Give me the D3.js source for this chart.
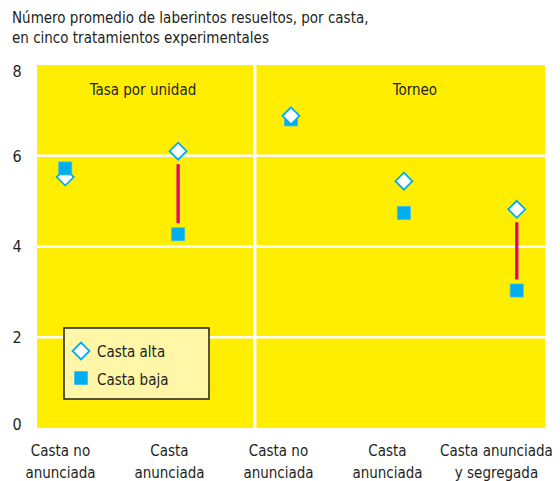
<!DOCTYPE html>
<html>
<head>
<meta charset="utf-8">
<script src="https://cdn.jsdelivr.net/npm/d3@7/dist/d3.min.js"></script>
<style>
  body { margin: 0; background: #ffffff; }
  text { font-family: "DejaVu Sans Condensed", "Liberation Sans Narrow", sans-serif; fill: #231f20; }
</style>
</head>
<body>
<div id="chart"></div>
<script>

// data

const categories = ["c1", "c2", "c3", "c4", "c5"];
const categoryLabels = [
  ["Casta no", "anunciada"],
  ["Casta", "anunciada"],
  ["Casta no", "anunciada"],
  ["Casta", "anunciada"],
  ["Casta anunciada", "y segregada"]
];
const castaAlta = [5.53, 6.1, 6.88, 5.44, 4.82];
const castaBaja = [5.72, 4.27, 6.8, 4.74, 3.03];
const gapLines = ["c2", "c5"];          // pink lines between the two castes
const panels = ["Tasa por unidad", "Torneo"];
const yTicks = [0, 2, 4, 6, 8];
const titleLines = ["Número promedio de laberintos resueltos, por casta,", "en cinco tratamientos experimentales"];
const legendItems = ["Casta alta", "Casta baja"];


const width = 560, height = 481;
const margin = { top: 65, right: 15, bottom: 53, left: 37 };

const yellow = "#ffee00", cyan = "#00aeef", pink = "#e6007e";

const svg = d3.select("#chart").append("svg")
  .attr("width", width)
  .attr("height", height);

let x = d3.scalePoint()
  .domain(categories)
  .range([margin.left, width - margin.right])
  .padding(0.25);

// labels under the axis sit on their own, slightly wider spacing
let xLabel = d3.scalePoint()
  .domain(categories)
  .range([6, 551])
  .padding(0.5);

let y = d3.scaleLinear()
  .domain([0, 8])
  .range([height - margin.bottom, margin.top]);

// yellow background
svg.append("rect")
  .attr("x", margin.left)
  .attr("y", y(8))
  .attr("width", width - margin.right - margin.left)
  .attr("height", y(0) - y(8))
  .style("fill", yellow);

// white grid
svg.selectAll("line.grid")
  .data(yTicks.filter(d => d > 0 && d < 8))
  .enter()
  .append("line")
  .attr("class", "grid")
  .attr("x1", margin.left)
  .attr("x2", width - margin.right)
  .attr("y1", d => y(d))
  .attr("y2", d => y(d))
  .style("stroke", "#ffffff")
  .style("stroke-width", 2.7);

// divider between the two panels
let divX = margin.left + (width - margin.right - margin.left) * 0.429;
svg.append("line")
  .attr("x1", divX).attr("x2", divX)
  .attr("y1", y(8)).attr("y2", y(0))
  .style("stroke", "#ffffff")
  .style("stroke-width", 3);

// y tick labels
svg.selectAll("text.yTick")
  .data(yTicks)
  .enter()
  .append("text")
  .attr("class", "yTick")
  .attr("x", 17)
  .attr("y", d => y(d))
  .attr("dy", d => d == 8 ? "0.75em" : d == 0 ? "0.15em" : "0.36em")
  .style("text-anchor", "middle")
  .style("font-size", "16px")
  .text(d => d);

// title
svg.selectAll("text.title")
  .data(titleLines)
  .enter()
  .append("text")
  .attr("class", "title")
  .attr("x", 12)
  .attr("y", (d, i) => 23 + i * 20)
  .style("font-size", "15px")
  .text(d => d);

// panel titles
svg.append("text")
  .attr("x", (margin.left + divX) / 2 - 3)
  .attr("y", 95)
  .style("text-anchor", "middle")
  .style("font-size", "15px")
  .text(panels[0]);

svg.append("text")
  .attr("x", (divX + width - margin.right) / 2 + 15)
  .attr("y", 95)
  .style("text-anchor", "middle")
  .style("font-size", "15px")
  .text(panels[1]);

// category labels
let catLabels = svg.selectAll("text.catLabel")
  .data(categories)
  .enter()
  .append("text")
  .attr("class", "catLabel")
  .attr("x", d => xLabel(d))
  .attr("y", 456)
  .style("text-anchor", "middle")
  .style("font-size", "15px");

catLabels.selectAll("tspan")
  .data((d, i) => categoryLabels[i])
  .enter()
  .append("tspan")
  .attr("x", function() { return this.parentNode.getAttribute("x"); })
  .attr("dy", (d, i) => i == 0 ? 0 : 22)
  .text(d => d);

// pink lines
let rows = categories.map((c, i) => ({ cat: c, alta: castaAlta[i], baja: castaBaja[i] }));

svg.selectAll("line.gap")
  .data(rows.filter(d => gapLines.includes(d.cat)))
  .enter()
  .append("line")
  .attr("class", "gap")
  .attr("x1", d => x(d.cat))
  .attr("x2", d => x(d.cat))
  .attr("y1", d => y(d.alta) + 13)
  .attr("y2", d => y(d.baja) - 11)
  .style("stroke", pink)
  .style("stroke-width", 3.3);

const diamond = function(sel) {
  sel.attr("d", "M0,-8.5L8.5,0L0,8.5L-8.5,0Z")
    .style("fill", "#ffffff")
    .style("stroke", cyan)
    .style("stroke-width", 1.8);
};

const square = function(sel) {
  sel.attr("d", "M-6.5,-6.5H6.5V6.5H-6.5Z")
    .style("fill", cyan)
    .style("stroke", "#33c0f2")
    .style("stroke-width", 0.8);
};

// markers, the higher one of each pair drawn on top
let marks = [];
rows.forEach(d => {
  let pair = [
    { cat: d.cat, value: d.alta, kind: "alta" },
    { cat: d.cat, value: d.baja, kind: "baja" }
  ].sort((a, b) => a.value - b.value);
  marks = marks.concat(pair);
});

svg.selectAll("path.mark")
  .data(marks)
  .enter()
  .append("path")
  .attr("class", "mark")
  .attr("transform", d => `translate(${x(d.cat)},${y(d.value)})`)
  .each(function(d) {
    d3.select(this).call(d.kind == "alta" ? diamond : square);
  });

// legend
let legend = svg.append("g")
  .attr("transform", "translate(64,328)");

legend.append("rect")
  .attr("width", 145)
  .attr("height", 71)
  .style("fill", "#fff6a8")
  .style("stroke", "#231f20")
  .style("stroke-width", 1.5);

legend.append("path")
  .attr("transform", "translate(17,23)")
  .call(diamond);

legend.append("path")
  .attr("transform", "translate(17,50)")
  .call(square);

legend.selectAll("text.legendText")
  .data(legendItems)
  .enter()
  .append("text")
  .attr("class", "legendText")
  .attr("x", 33)
  .attr("y", (d, i) => 29 + i * 28)
  .style("font-size", "15px")
  .text(d => d);

</script>
</body>
</html>
